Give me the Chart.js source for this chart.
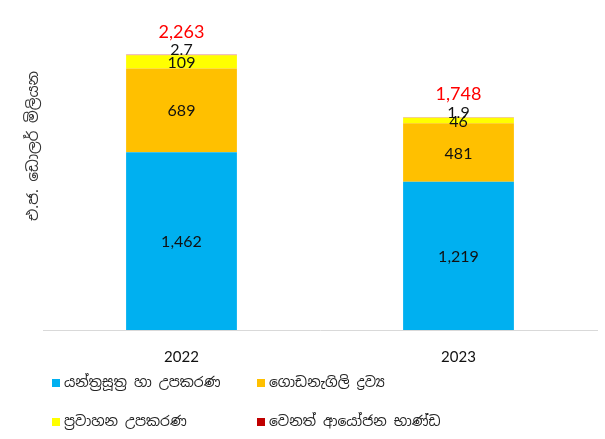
<!DOCTYPE html>
<html>
<head>
<meta charset="utf-8">
<script src="https://cdn.jsdelivr.net/npm/chart.js@4"></script>
<style>
html,body{margin:0;padding:0;background:#fff;}
#wrap{width:605px;height:439px;position:relative;}
</style>
</head>
<body>
<div id="wrap"><canvas id="c" width="605" height="439"></canvas></div>
<script>
const years = ['2022', '2023'];
const machinery = [1462, 1219];
const building = [689, 481];
const transport = [109, 46];
const other = [2.7, 1.9];
const seriesNames = ['යන්ත්‍රසූත්‍ර හා උපකරණ', 'ගොඩනැගිලි ද්‍රව්‍ය', 'ප්‍රවාහන උපකරණ', 'වෙනත් ආයෝජන භාණ්ඩ'];
const yTitle = 'එ.ජ. ඩොලර් මිලියන';

const colors = ['#00B0F0', '#FFC000', '#FFFF00', '#C00000'];
const FONT = "'Noto Sans Sinhala', 'Open Sans', 'Noto Sans', sans-serif";
const NUMFONT = "Lato, 'Open Sans', sans-serif";

const fmt = (v) => v.toLocaleString('en-US', {maximumFractionDigits: 1});

const labelPlugin = {
  id: 'labels',
  afterDatasetsDraw(chart) {
    const ctx = chart.ctx;
    ctx.save();
    ctx.textAlign = 'center';
    ctx.textBaseline = 'middle';
    const n = chart.data.datasets.length;
    chart.data.datasets.forEach((ds, di) => {
      const meta = chart.getDatasetMeta(di);
      meta.data.forEach((bar, i) => {
        const v = ds.data[i];
        ctx.fillStyle = '#111';
        ctx.font = '16px ' + NUMFONT;
        let y = (bar.y + bar.base) / 2 + 1;
        if (di === n - 1) y = bar.y - 5;
        ctx.fillText(fmt(v), bar.x, y);
      });
    });
    // totals
    const lastMeta = chart.getDatasetMeta(n - 1);
    lastMeta.data.forEach((bar, i) => {
      const total = chart.data.datasets.reduce((s, d) => s + d.data[i], 0);
      ctx.fillStyle = '#FF0000';
      ctx.font = '18px ' + NUMFONT;
      ctx.fillText(Math.round(total).toLocaleString('en-US'), bar.x, bar.y - 23);
    });
    // y title
    ctx.save();
    ctx.translate(34, 146);
    ctx.rotate(-Math.PI / 2);
    ctx.fillStyle = '#333';
    ctx.font = '15px ' + FONT;
    ctx.fillText(yTitle, 0, 0);
    ctx.restore();
    // legend
    const pos = [[52, 383], [257, 383], [52, 422], [257, 422]];
    ctx.textAlign = 'left';
    chart.data.datasets.forEach((ds, di) => {
      const [x, y] = pos[di];
      ctx.fillStyle = ds.backgroundColor;
      ctx.fillRect(x, y - 4, 8, 8);
      ctx.fillStyle = '#222';
      ctx.font = '14px ' + FONT;
      ctx.fillText(ds.label, x + 12, y);
    });
    ctx.restore();
  }
};

new Chart(document.getElementById('c'), {
  type: 'bar',
  data: {
    labels: years,
    datasets: [machinery, building, transport, other].map((d, i) => ({
      label: seriesNames[i],
      data: d,
      backgroundColor: colors[i],
      borderWidth: 0,
      categoryPercentage: 1,
      barPercentage: 0.4
    }))
  },
  options: {
    responsive: false,
    animation: false,
    layout: {padding: {left: 43, right: 8, top: 26, bottom: 69}},
    plugins: {legend: {display: false}, tooltip: {enabled: false}},
    scales: {
      x: {
        stacked: true,
        grid: {display: false},
        border: {display: true, color: '#D9D9D9', width: 1},
        ticks: {color: '#111', font: {family: NUMFONT, size: 15}, padding: 10},
        afterFit(s) { s.height = 40; }
      },
      y: {
        stacked: true,
        display: false,
        min: 0,
        max: 2500
      }
    }
  },
  plugins: [labelPlugin]
});
</script>
</body>
</html>
